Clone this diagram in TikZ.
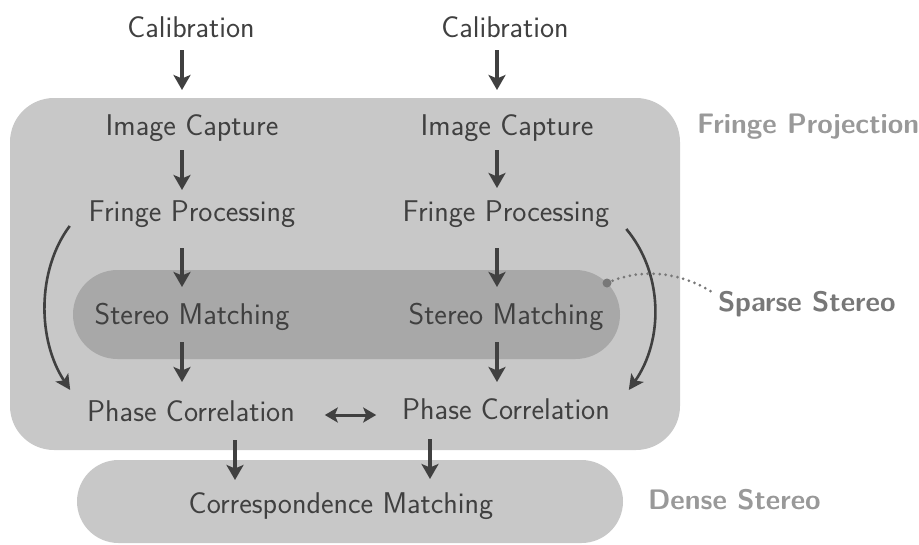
\documentclass[tikz,border=0pt]{standalone}
\usepackage{fontspec}
\usetikzlibrary{arrows.meta,calc}
\definecolor{txt}{HTML}{404040}
\definecolor{bgA}{HTML}{C8C8C8}
\definecolor{bgB}{HTML}{A8A8A8}
\definecolor{lbl}{HTML}{999999}
\definecolor{lblS}{HTML}{787878}
\begin{document}
\begin{tikzpicture}[x=1pt,y=-1pt,
  every node/.style={inner sep=0pt, outer sep=0pt},
  lab/.style={anchor=base, text=txt, font=\fontsize{30}{36}\selectfont\sffamily},
  grp/.style={anchor=base west, font=\fontsize{28.2}{34}\selectfont\sffamily\bfseries},
  panel/.style={fill=#1, draw=none, rectangle},
  arr/.style={-{Stealth[length=15pt,width=17pt,inset=3.5pt]}, line width=3.4pt, draw=txt},
  darr/.style={{Stealth[length=13pt,width=15pt,inset=3pt]}-{Stealth[length=13pt,width=15pt,inset=3pt]}, line width=3pt, draw=txt},
  curv/.style={-{Stealth[length=15pt,width=15pt,inset=3.5pt]}, line width=2.6pt, draw=txt},
  dotline/.style={line width=3pt, draw=lblS, dash pattern=on 0pt off 6pt, line cap=round}
]
\useasboundingbox (0,0) rectangle (919,544);
% panels
\node[panel=bgA, minimum width=670pt, minimum height=352pt, rounded corners=44pt] (outer) at (345,274) {};
\node[panel=bgB, minimum width=547pt, minimum height=89pt, rounded corners=44.5pt] (sparse) at (346.5,314.5) {};
\node[panel=bgA, minimum width=546pt, minimum height=83pt, rounded corners=41.5pt] (dense) at (350,501.5) {};
% labels of groups
\node[grp, text=lbl] (lfp) at (697,133) {Fringe Projection};
\node[grp, text=lblS] (lss) at (718,311) {Sparse Stereo};
\node[grp, text=lbl] (lds) at (648,509) {Dense Stereo};
% column coordinates
\coordinate (c1) at (182,0);
\coordinate (c2) at (497,0);
% text nodes
\node[lab] (cal1) at (191,37) {Calibration};
\node[lab] (cal2) at (505,37) {Calibration};
\node[lab] (ic1) at (192,135) {Image Capture};
\node[lab] (ic2) at (507,135) {Image Capture};
\node[lab] (fp1) at (192,221) {Fringe Processing};
\node[lab] (fp2) at (506,221) {Fringe Processing};
\node[lab] (sm1) at (192,324) {Stereo Matching};
\node[lab] (sm2) at (506,324) {Stereo Matching};
\node[lab] (pc1) at (191,421) {Phase Correlation};
\node[lab] (pc2) at (506,419) {Phase Correlation};
\node[lab] (cm) at (341,513) {Correspondence Matching};
% vertical arrows
\draw[arr] (cal1.base -| c1) ++(0,13) -- ++(0,40);
\draw[arr] (cal2.base -| c2) ++(0,13) -- ++(0,40);
\draw[arr] (ic1.base -| c1) ++(0,15) -- ++(0,40);
\draw[arr] (ic2.base -| c2) ++(0,15) -- ++(0,38);
\draw[arr] (fp1.base -| c1) ++(0,27) -- ++(0,39);
\draw[arr] (fp2.base -| c2) ++(0,27) -- ++(0,39);
\draw[arr] (sm1.base -| c1) ++(0,18) -- ++(0,40);
\draw[arr] (sm2.base -| c2) ++(0,18) -- ++(0,40);
\draw[arr] ($(pc1.base)+(44,19)$) -- ++(0,40);
\draw[arr] ($(pc2.base)+(-76,20)$) -- ++(0,40);
% double arrow
\draw[darr] ($(pc1.base east)+(30,-6)$) -- ($(pc2.base west)+(-26,-4)$);
% curved arrows
\draw[curv] ([shift={(-19,5)}]fp1.base west) .. controls +(-33,44) and +(-33,-50) .. ([shift={(-17,-31)}]pc1.base west);
\draw[curv] ([shift={(17,8)}]fp2.base east) .. controls +(37,44) and +(35,-50) .. ([shift={(19,-29)}]pc2.base east);
% sparse stereo pointer
\coordinate (sdot) at ($(sparse.east)+(-13,-31.5)$);
\fill[lblS] (sdot) circle (4.5pt);
\draw[dotline] (sdot) .. controls +(40,-18) and +(-25,-16) .. ([shift={(-6,-19)}]lss.base west);
\end{tikzpicture}
\end{document}
